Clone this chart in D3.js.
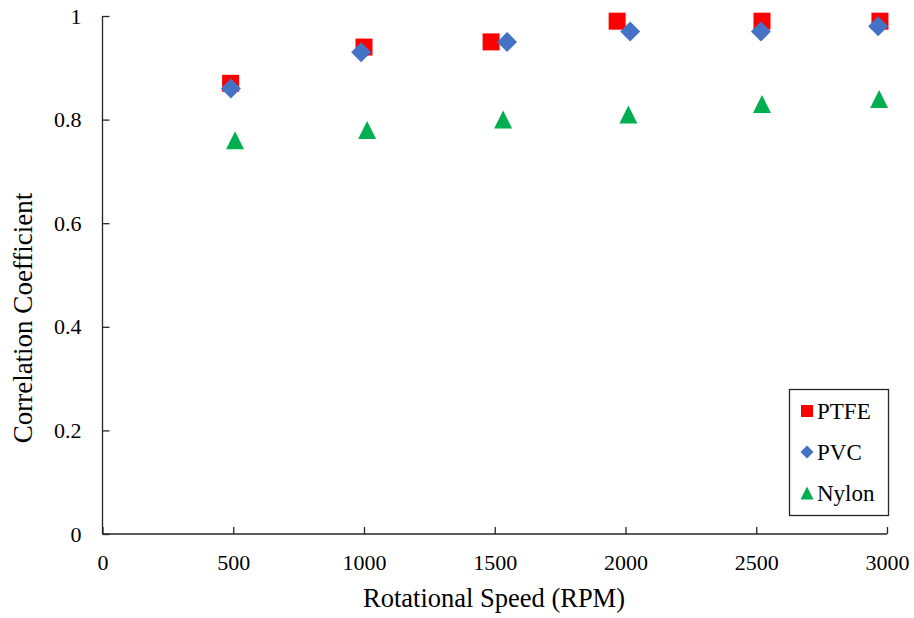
<!DOCTYPE html>
<html><head><meta charset="utf-8">
<script src="https://cdn.jsdelivr.net/npm/d3@7"></script>
<style>body{margin:0;background:#fff}svg{display:block}text{font-family:"Liberation Serif","Times New Roman",serif}</style>
</head><body><svg id="c" width="914" height="618"></svg>
<script>
const xTicks = [0,500,1000,1500,2000,2500,3000];
const yTicks = [0,0.2,0.4,0.6,0.8,1];
const ptfeX = [490,1000,1486,1968,2522,2973];
const ptfeY = [0.87,0.94,0.95,0.99,0.99,0.99];
const pvcX = [491,989,1547,2018,2518,2966];
const pvcY = [0.86,0.93,0.95,0.97,0.97,0.98];
const nylonX = [507,1012,1532,2011,2522,2970];
const nylonY = [0.76,0.78,0.80,0.81,0.83,0.84];
const seriesNames = ["PTFE","PVC","Nylon"];

// custom symbol types: size = full width in px, centered on bounding box
const sqType = {draw(c,s){const h=s/2;c.moveTo(-h,-h);c.lineTo(h,-h);c.lineTo(h,h);c.lineTo(-h,h);c.closePath();}};
const diaType = {draw(c,s){const h=s/2;c.moveTo(0,-h);c.lineTo(h,0);c.lineTo(0,h);c.lineTo(-h,0);c.closePath();}};
const triType = {draw(c,s){const h=s/2;c.moveTo(0,-h);c.lineTo(h,h);c.lineTo(-h,h);c.closePath();}};

const svg = d3.select("#c");
const x = d3.scaleLinear().domain([0,3000]).range([102.5,887]);
const y = d3.scaleLinear().domain([0,1]).range([534,16]);
const axisColor = "#262626";

const gx = svg.append("g").attr("transform","translate(0,534)")
  .call(d3.axisBottom(x).tickValues(xTicks).tickSize(-7).tickPadding(20).tickFormat(d3.format("d")));
const gy = svg.append("g").attr("transform","translate(102.5,0)")
  .call(d3.axisLeft(y).tickValues(yTicks).tickSize(-7).tickPadding(21).tickFormat(d=>d===0?"0":d===1?"1":d3.format(".1f")(d)));
[gx,gy].forEach(g=>{
  g.select(".domain").attr("stroke",axisColor).attr("stroke-width",1.3).attr("d", g===gx? "M102.5,0H887" : "M0,534V16");
  g.selectAll(".tick line").attr("stroke",axisColor).attr("stroke-width",1.3);
  g.selectAll(".tick text").attr("fill","#000").style("font-size","22px").style("font-family","Liberation Serif");
});

const series = [
  {name:"PTFE", xs:ptfeX, ys:ptfeY, color:"#FF0000", sym:sqType, size:17, lsize:12},
  {name:"PVC", xs:pvcX, ys:pvcY, color:"#4472C4", sym:diaType, size:20, lsize:13},
  {name:"Nylon", xs:nylonX, ys:nylonY, color:"#00B050", sym:triType, size:18, lsize:13}
];
series.forEach(s=>{
  const g = svg.append("g");
  s.xs.forEach((xv,i)=>{
    g.append("path").attr("d", d3.symbol().type(s.sym).size(s.size)())
      .attr("transform",`translate(${x(xv)},${y(s.ys[i])})`)
      .attr("fill",s.color);
  });
});

// legend
const lg = svg.append("g");
lg.append("rect").attr("x",789.5).attr("y",389.5).attr("width",99).attr("height",126)
  .attr("fill","#fff").attr("stroke",axisColor).attr("stroke-width",1.3);
series.forEach((s,i)=>{
  const cy = 411 + i*41;
  lg.append("path").attr("d", d3.symbol().type(s.sym).size(s.lsize)())
    .attr("transform",`translate(807,${cy})`).attr("fill",s.color);
  lg.append("text").attr("x",817).attr("y",cy+8).text(seriesNames[i]).style("font-size","23px");
});

svg.append("text").attr("x",494).attr("y",607).attr("text-anchor","middle").style("font-size","26.5px").text("Rotational Speed (RPM)");
svg.append("text").attr("transform","translate(32,318) rotate(-90)").attr("text-anchor","middle").style("font-size","27px").text("Correlation Coefficient");
</script></body></html>
